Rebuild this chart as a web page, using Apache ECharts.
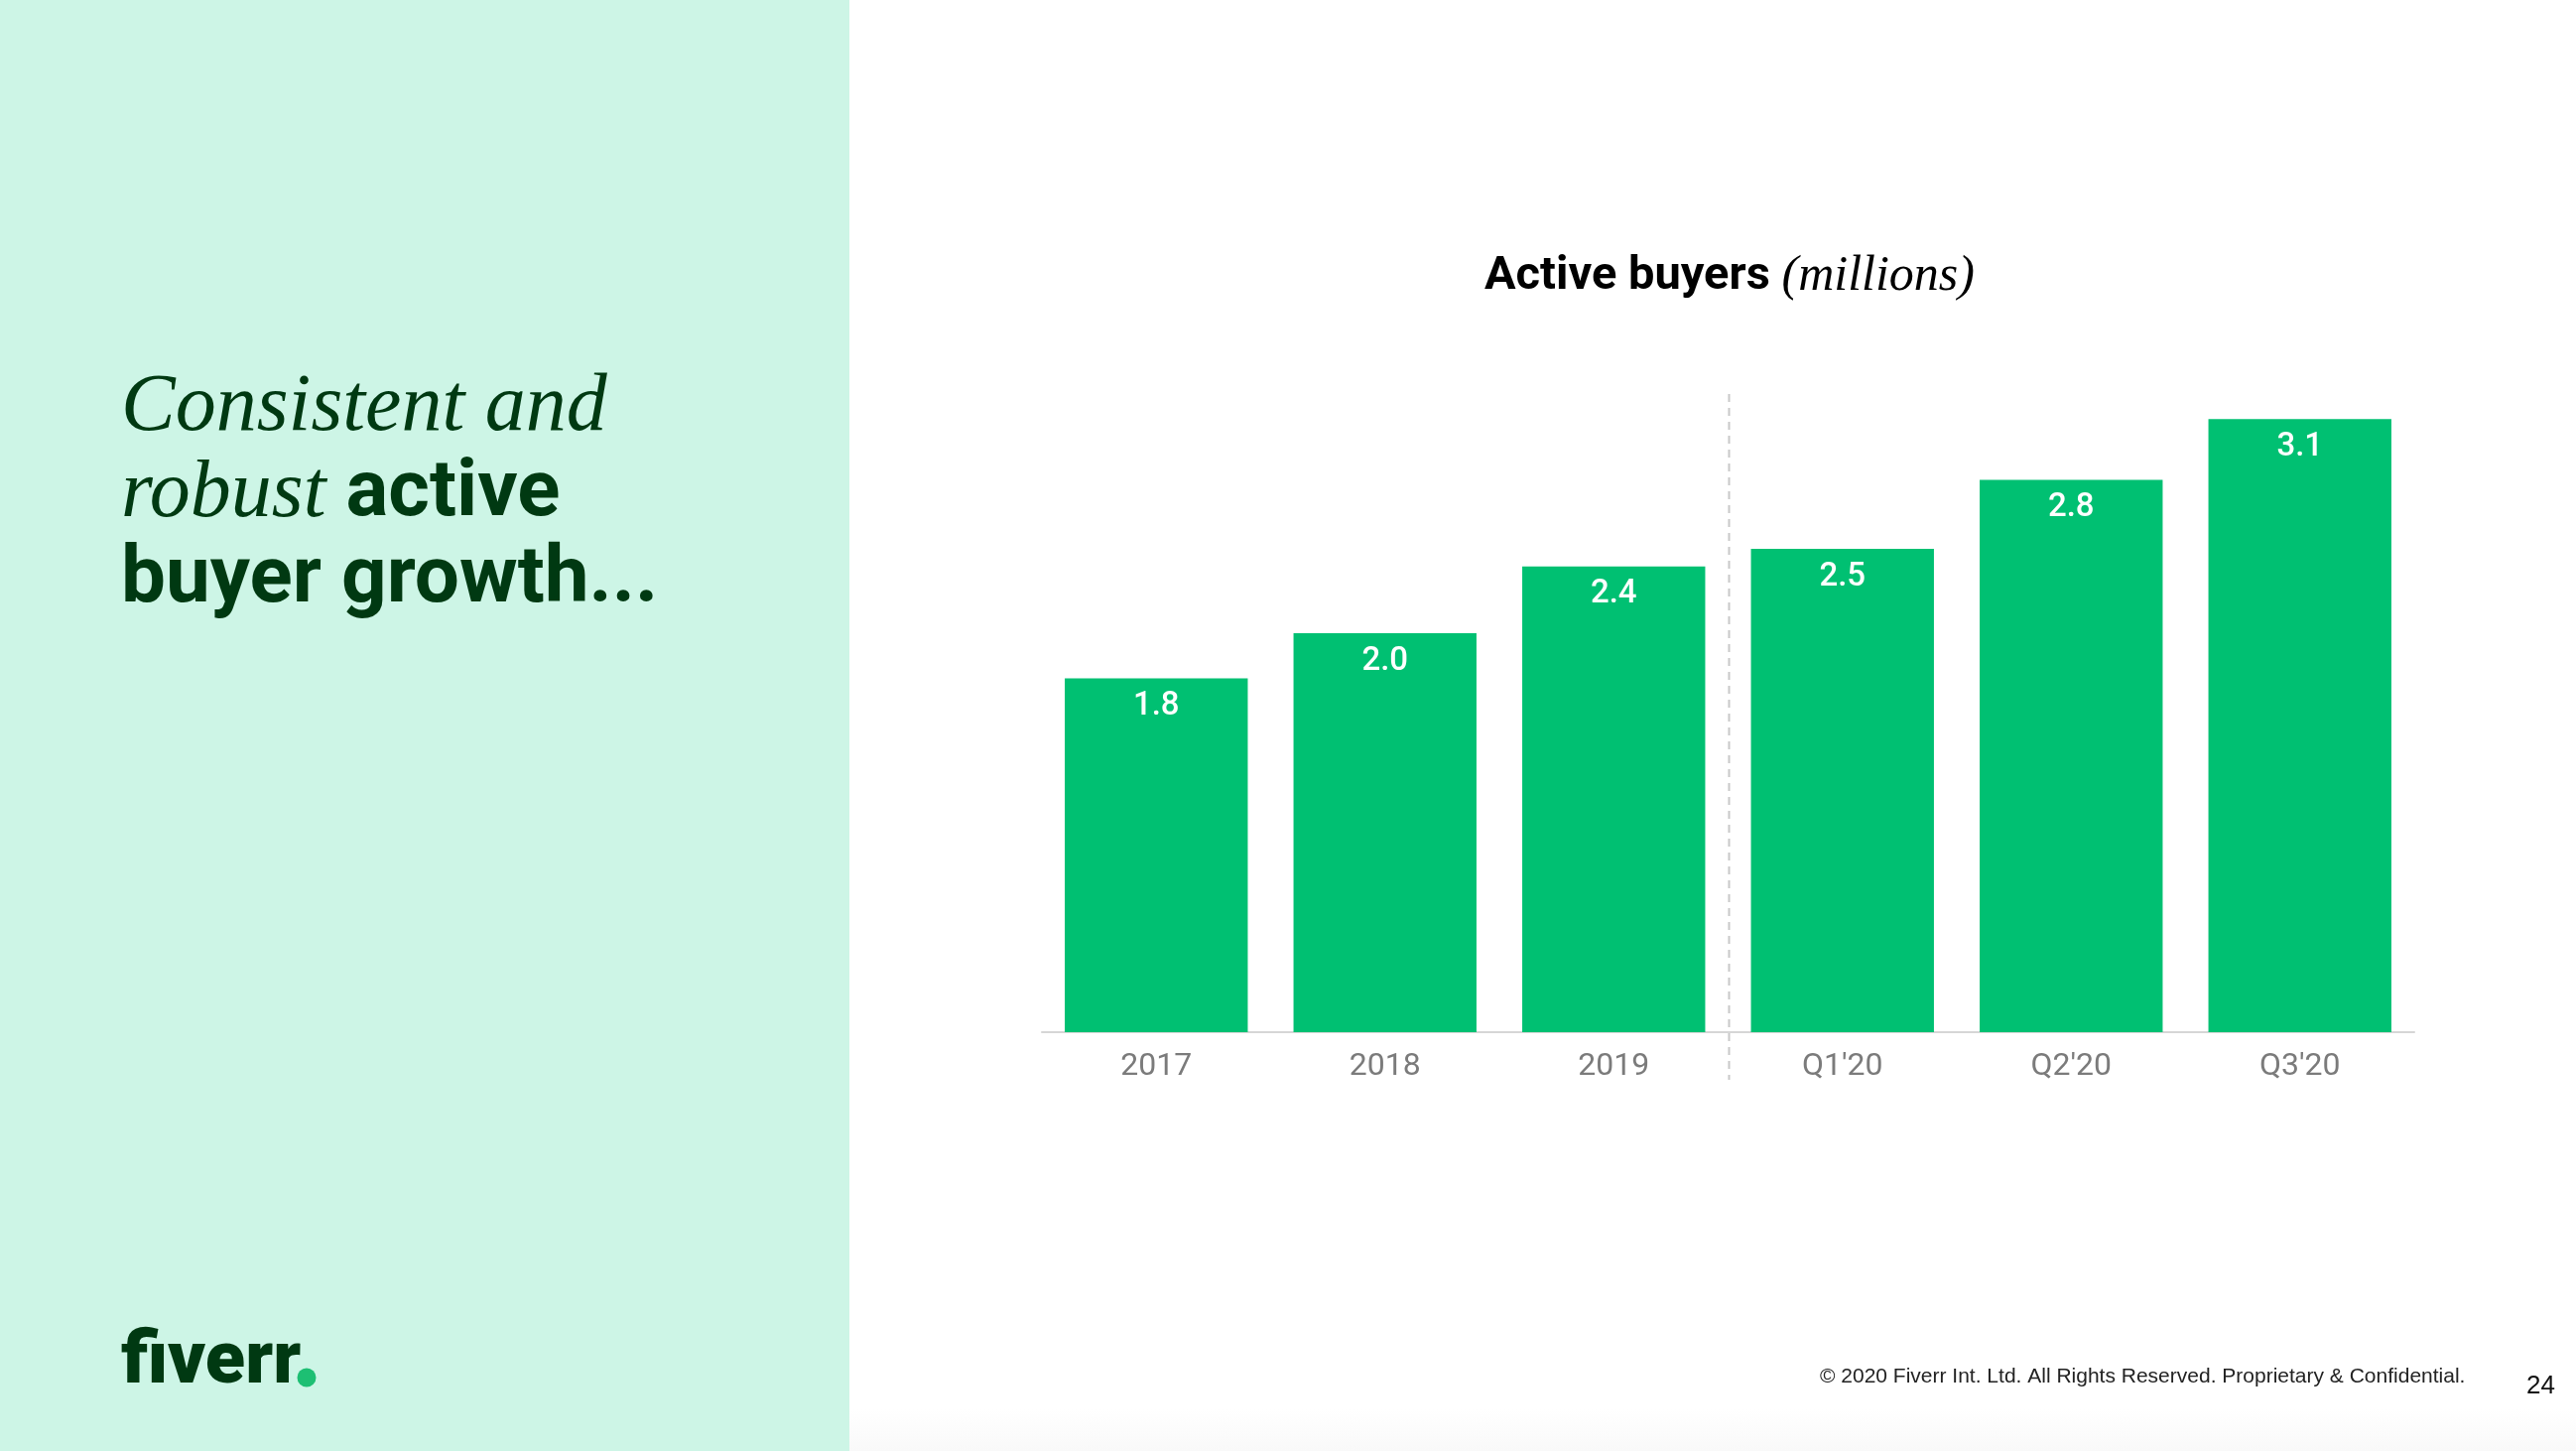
<!DOCTYPE html>
<html><head><meta charset="utf-8">
<script src="https://cdn.jsdelivr.net/npm/echarts@6/dist/echarts.min.js"></script>
<style>html,body{margin:0;padding:0;background:#fff;}#c{width:2596px;height:1462px;}</style>
</head><body><div id="c"></div>
<script>
const categories = ['2017', '2018', '2019', "Q1'20", "Q2'20", "Q3'20"];
// bar heights; labels show them to one decimal
const activeBuyers = [1.80, 2.03, 2.37, 2.46, 2.81, 3.12];
const chartTitle = 'Active buyers';
const chartUnit = '(millions)';
const headlineItalic1 = 'Consistent and';
const headlineItalic2 = 'robust';
const headlineBold1 = 'active';
const headlineBold2 = 'buyer growth...';
const logoText = 'fiverr';
const footerText = '\u00A9 2020 Fiverr Int. Ltd. All Rights Reserved. Proprietary & Confidential.';
const pageNumber = '24';

const chart = echarts.init(document.getElementById('c'), null, {renderer: 'canvas'});
const SANS = 'Roboto, "Noto Sans", sans-serif';
const SERIF = '"Liberation Serif", "DejaVu Serif", serif';
const DARK = '#003912';

function baseGraphic() {
  return [
    {id: 'panel', type: 'rect', z: 0, shape: {x: 0, y: 0, width: 856, height: 1462}, style: {fill: '#cdf5e6'}},
    {id: 'shade', type: 'rect', z: 0, shape: {x: 856, y: 1420, width: 1740, height: 42}, style: {
      fill: new echarts.graphic.LinearGradient(0, 0, 0, 1, [{offset: 0, color: '#ffffff'}, {offset: 1, color: '#f9f9f9'}])
    }},
    {id: 'headline', type: 'text', z: 5, x: 122, y: 368, style: {
      text: '{i|' + headlineItalic1 + '}\n{i|' + headlineItalic2 + '}{b| ' + headlineBold1 + '}\n{b|' + headlineBold2 + '}',
      textVerticalAlign: 'top', textAlign: 'left',
      rich: {
        i: {fontFamily: SERIF, fontStyle: 'italic', fontSize: 82, fill: DARK, lineHeight: 87},
        b: {fontFamily: SANS, fontWeight: 'bold', fontSize: 80, fill: DARK, lineHeight: 87}
      }
    }},
    {id: 'logo', type: 'text', z: 5, x: 122, y: 1374, style: {
      text: logoText, font: '900 74px Roboto', fill: DARK, textVerticalAlign: 'middle', textAlign: 'left'
    }},
    {id: 'logodot', type: 'circle', z: 5, shape: {cx: 309, cy: 1388, r: 9.5}, style: {fill: '#1dbf73'}},
    {id: 'title', type: 'text', z: 5, x: 1743, y: 279, style: {
      text: '{b|' + chartTitle + ' }{i|' + chartUnit + '}',
      textAlign: 'center', textVerticalAlign: 'middle',
      rich: {
        b: {fontFamily: SANS, fontWeight: 'bold', fontSize: 47, fill: '#000'},
        i: {fontFamily: SERIF, fontStyle: 'italic', fontSize: 50, fill: '#000'}
      }
    }},
    {id: 'footer', type: 'text', z: 5, x: 1834, y: 1387, style: {
      text: footerText, font: '21px "Liberation Sans", sans-serif', fill: '#222',
      textAlign: 'left', textVerticalAlign: 'middle'
    }},
    {id: 'page', type: 'text', z: 5, x: 2546, y: 1397, style: {
      text: pageNumber, font: '26px "Liberation Sans", sans-serif', fill: '#111',
      textAlign: 'left', textVerticalAlign: 'middle'
    }}
  ];
}

chart.setOption({
  backgroundColor: '#ffffff',
  animation: false,
  grid: {left: 1050, right: 163, top: 347, bottom: 422, containLabel: false},
  xAxis: {
    type: 'category', data: categories,
    axisLine: {lineStyle: {color: '#d6d6d6', width: 2}},
    axisTick: {show: false},
    axisLabel: {color: '#7b7b7b', fontSize: 32, fontFamily: SANS, margin: 19}
  },
  yAxis: {type: 'value', min: 0, max: 3.5, show: false, splitLine: {show: false}},
  series: [{
    type: 'bar', data: activeBuyers, barCategoryGap: '20%',
    itemStyle: {color: '#00c072'},
    label: {
      show: true, position: 'insideTop', distance: 12, color: '#ffffff',
      fontSize: 33, fontWeight: 500, fontFamily: SANS,
      formatter: p => Number(p.value).toFixed(1)
    }
  }],
  graphic: baseGraphic()
});

const xa = chart.convertToPixel({xAxisIndex: 0}, 2);
const xb = chart.convertToPixel({xAxisIndex: 0}, 3);
const sepX = Math.round((xa + xb) / 2) + 0.5;
const g = baseGraphic();
g.push({id: 'sep', type: 'line', z: 5, shape: {x1: sepX, y1: 397, x2: sepX, y2: 1088},
  style: {stroke: '#c8c8c8', lineWidth: 2, lineDash: [8, 6]}});
chart.setOption({graphic: g});
</script>
</body></html>
